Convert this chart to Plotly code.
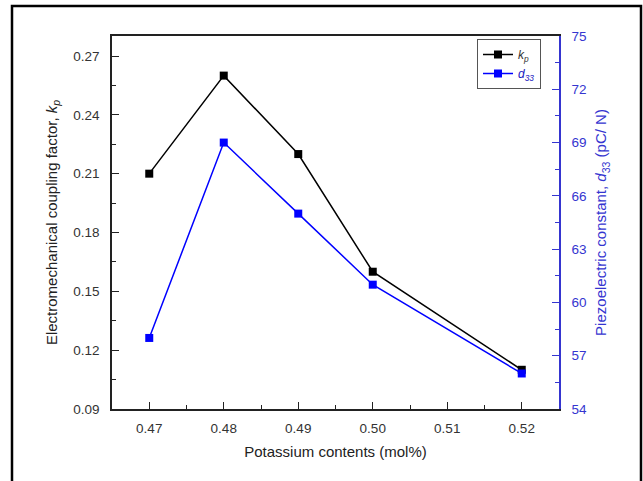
import plotly.graph_objects as go

potassium = [0.47, 0.48, 0.49, 0.50, 0.52]
kp_values = [0.21, 0.26, 0.22, 0.16, 0.11]
d33_values = [58, 69, 65, 61, 56]

BLUE = "#0000ff"
AXBLUE = "#3535d0"
FONT = "Liberation Sans, Arial, sans-serif"

fig = go.Figure()
fig.add_trace(go.Scatter(
    x=potassium, y=kp_values, mode="lines+markers",
    name="<i>k</i><sub><i>p</i></sub>",
    line=dict(color="black", width=1.5),
    marker=dict(symbol="square", size=8, color="black"),
))
fig.add_trace(go.Scatter(
    x=potassium, y=d33_values, mode="lines+markers",
    name="<span style='color:#2020c0'><i>d</i><sub><i>33</i></sub></span>",
    line=dict(color=BLUE, width=1.5),
    marker=dict(symbol="square", size=8, color=BLUE),
    yaxis="y2",
))

W, H = 643, 481
L, R, T, B = 112, 84, 36, 72
pw, ph = W - L - R, H - T - B

def px(x):
    return (x - L) / pw

def py(y):
    return (H - B - y) / ph

fig.update_layout(
    width=W, height=H,
    margin=dict(l=L, r=R, t=T, b=B),
    paper_bgcolor="white", plot_bgcolor="white",
    font=dict(family=FONT, size=13, color="#333333"),
    showlegend=True,
    legend=dict(
        x=px(541), y=py(39), xanchor="right", yanchor="top",
        bgcolor="white", bordercolor="#555555", borderwidth=1,
        font=dict(size=12, color="#333333"),
        itemwidth=30, tracegroupgap=0,
    ),
    xaxis=dict(
        range=[0.465, 0.525], dtick=0.01, tick0=0.47, tickformat=".2f",
        showgrid=False, zeroline=False,
        showline=True, linecolor="#222222", linewidth=1.5, mirror=True,
        ticks="inside", ticklen=7, tickwidth=1.2, tickcolor="#222222",
        minor=dict(ticks="inside", ticklen=4, dtick=0.005, tickcolor="#222222", tickwidth=1.2),
        tickfont=dict(size=13.5, color="#333333"),
        ticklabelstandoff=6,
        title=dict(text="Potassium contents (mol%)", font=dict(size=15, color="#222222"), standoff=12),
    ),
    yaxis=dict(
        range=[0.09, 0.2802], dtick=0.03, tick0=0.09, tickformat=".2f",
        showgrid=False, zeroline=False,
        showline=True, linecolor="#222222", linewidth=1.5,
        ticks="inside", ticklen=7, tickwidth=1.2, tickcolor="#222222",
        minor=dict(ticks="inside", ticklen=4, dtick=0.015, tickcolor="#222222", tickwidth=1.2),
        tickfont=dict(size=13.5, color="#333333"),
        ticklabelstandoff=8,
        title=dict(text="Electromechanical coupling factor, <i>k</i><sub><i>p</i></sub>",
                   font=dict(size=15, color="#222222"), standoff=12),
    ),
    yaxis2=dict(
        range=[54, 75], dtick=3, tick0=54, overlaying="y", side="right",
        showgrid=False, zeroline=False,
        showline=True, linecolor=AXBLUE, linewidth=1.5,
        ticks="inside", ticklen=7, tickwidth=1.2, tickcolor=AXBLUE,
        minor=dict(ticks="inside", ticklen=4, dtick=1.5, tickcolor=AXBLUE, tickwidth=1.2),
        tickfont=dict(size=13.5, color=AXBLUE),
        ticklabelstandoff=8,
        title=dict(text="Piezoelectric constant, <i>d</i><sub>33</sub> (pC/ N)",
                   font=dict(size=15, color=AXBLUE), standoff=10),
    ),
    shapes=[dict(
        type="rect", xref="paper", yref="paper",
        x0=px(12), x1=px(641), y0=py(495), y1=py(6),
        line=dict(color="black", width=2.5), fillcolor="rgba(0,0,0,0)", layer="below",
    )],
)

fig.write_html("out.html")
